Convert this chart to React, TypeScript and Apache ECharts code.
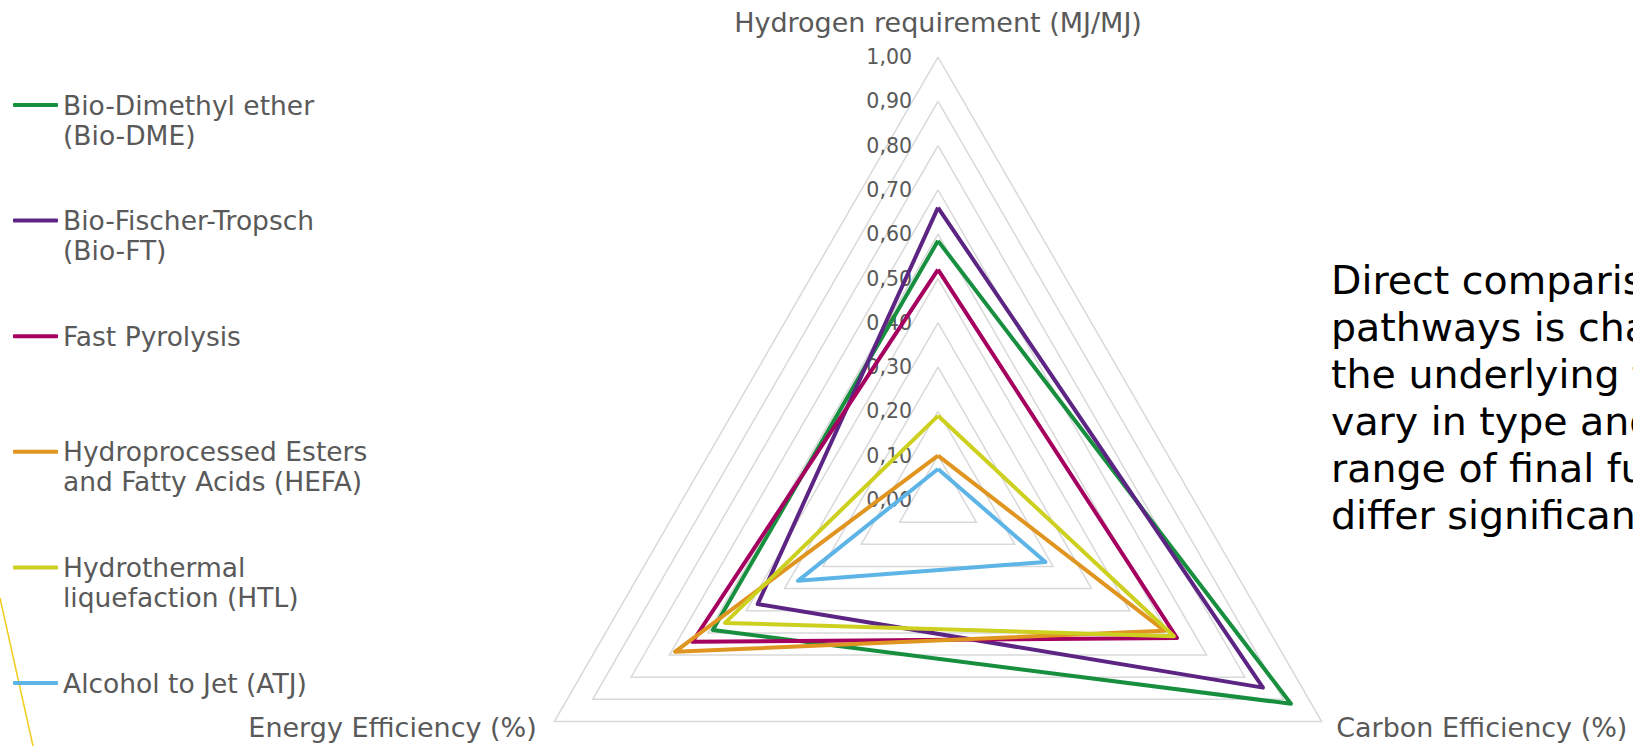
import React, { useEffect, useRef } from 'react';
import * as echarts from 'echarts';

const indicatorNames = ['Hydrogen requirement (MJ/MJ)', 'Energy Efficiency (%)', 'Carbon Efficiency (%)'];
const pathways = [
  'Bio-Dimethyl ether (Bio-DME)',
  'Bio-Fischer-Tropsch (Bio-FT)',
  'Fast Pyrolysis',
  'Hydroprocessed Esters and Fatty Acids (HEFA)',
  'Hydrothermal liquefaction (HTL)',
  'Alcohol to Jet (ATJ)',
];
const legendLabels = [
  'Bio-Dimethyl ether\n(Bio-DME)',
  'Bio-Fischer-Tropsch\n(Bio-FT)',
  'Fast Pyrolysis',
  'Hydroprocessed Esters\nand Fatty Acids (HEFA)',
  'Hydrothermal\nliquefaction (HTL)',
  'Alcohol to Jet (ATJ)',
];
const hydrogenReq = [0.585, 0.66, 0.52, 0.1, 0.19, 0.07];
const energyEff = [0.587, 0.47, 0.64, 0.685, 0.555, 0.365];
const carbonEff = [0.92, 0.847, 0.623, 0.59, 0.615, 0.28];
const colors = ['#178f3f', '#5c2483', '#a5005f', '#df9520', '#cdd01e', '#5db4e6'];
const axisMin = 0;
const axisMax = 1;
const splitCount = 10;
const noteLines = [
  'Direct comparison of the',
  'pathways is challenging as',
  'the underlying feedstocks',
  'vary in type and the',
  'range of final fuels',
  'differ significantly.',
];

const FONT = 'DejaVu Sans';
const GREY = '#595959';

// Legend text: keep the first line centred on the legend line (three-line block).
const legendText = (label: string) => {
  const lines = label.split('\n');
  return lines.length > 1 ? '\n' + lines.join('\n') : '\n' + label + '\n';
};

export default function App() {
  const ref = useRef<HTMLDivElement>(null);
  useEffect(() => {
    const chart = echarts.init(ref.current!, null, { renderer: 'svg' });
    const option: any = {
      animation: false,
      backgroundColor: '#ffffff',
      textStyle: { fontFamily: FONT },
      legend: {
        orient: 'vertical',
        left: 13,
        top: 60,
        padding: 0,
        itemGap: 25.6,
        itemWidth: 45,
        itemHeight: 4,
        icon: 'roundRect',
        selectedMode: false,
        formatter: (name: string) => legendText(legendLabels[pathways.indexOf(name)]),
        textStyle: { color: GREY, fontSize: 26.5, lineHeight: 30, fontFamily: FONT },
        data: pathways,
      },
      radar: {
        center: [938, 500],
        radius: 443,
        startAngle: 90,
        shape: 'polygon',
        splitNumber: splitCount,
        nameGap: 11,
        axisName: { color: GREY, fontSize: 27, fontFamily: FONT },
        indicator: [
          {
            name: indicatorNames[0],
            min: axisMin,
            max: axisMax,
            nameGap: 21,
            axisLabel: {
              show: true,
              color: GREY,
              fontSize: 20.5,
              fontFamily: FONT,
              margin: 26,
              formatter: (v: number) => v.toFixed(2).replace('.', ','),
            },
          },
          {
            name: indicatorNames[1],
            min: axisMin,
            max: axisMax,
            nameTextStyle: { padding: [0, 8, 0, 0] },
          },
          {
            name: indicatorNames[2],
            min: axisMin,
            max: axisMax,
            nameTextStyle: { padding: [0, 0, 0, 5] },
          },
        ],
        axisLine: { show: false },
        axisTick: { show: false },
        axisLabel: { show: false },
        splitLine: { lineStyle: { color: '#d9d9d9', width: 1.5 } },
        splitArea: { show: false },
      },
      series: pathways.map((name, i) => ({
        type: 'radar',
        name,
        symbol: 'none',
        lineStyle: { color: colors[i], width: 4 },
        itemStyle: { color: colors[i] },
        data: [{ name, value: [hydrogenReq[i], energyEff[i], carbonEff[i]] }],
      })),
      graphic: [
        {
          type: 'text',
          left: 1331,
          top: 256,
          style: {
            text: noteLines.join('\n'),
            fontSize: 39.5,
            lineHeight: 47,
            fontFamily: FONT,
            fill: '#000000',
          },
        },
        {
          type: 'line',
          shape: { x1: 0, y1: 598, x2: 33, y2: 746 },
          style: { stroke: '#f2cc1a', lineWidth: 1.5 },
        },
      ],
    };
    chart.setOption(option);
    return () => chart.dispose();
  }, []);
  return (
    <div
      ref={ref}
      style={{ position: 'absolute', left: 0, top: 0, width: 1633, height: 746, overflow: 'hidden' }}
    />
  );
}
